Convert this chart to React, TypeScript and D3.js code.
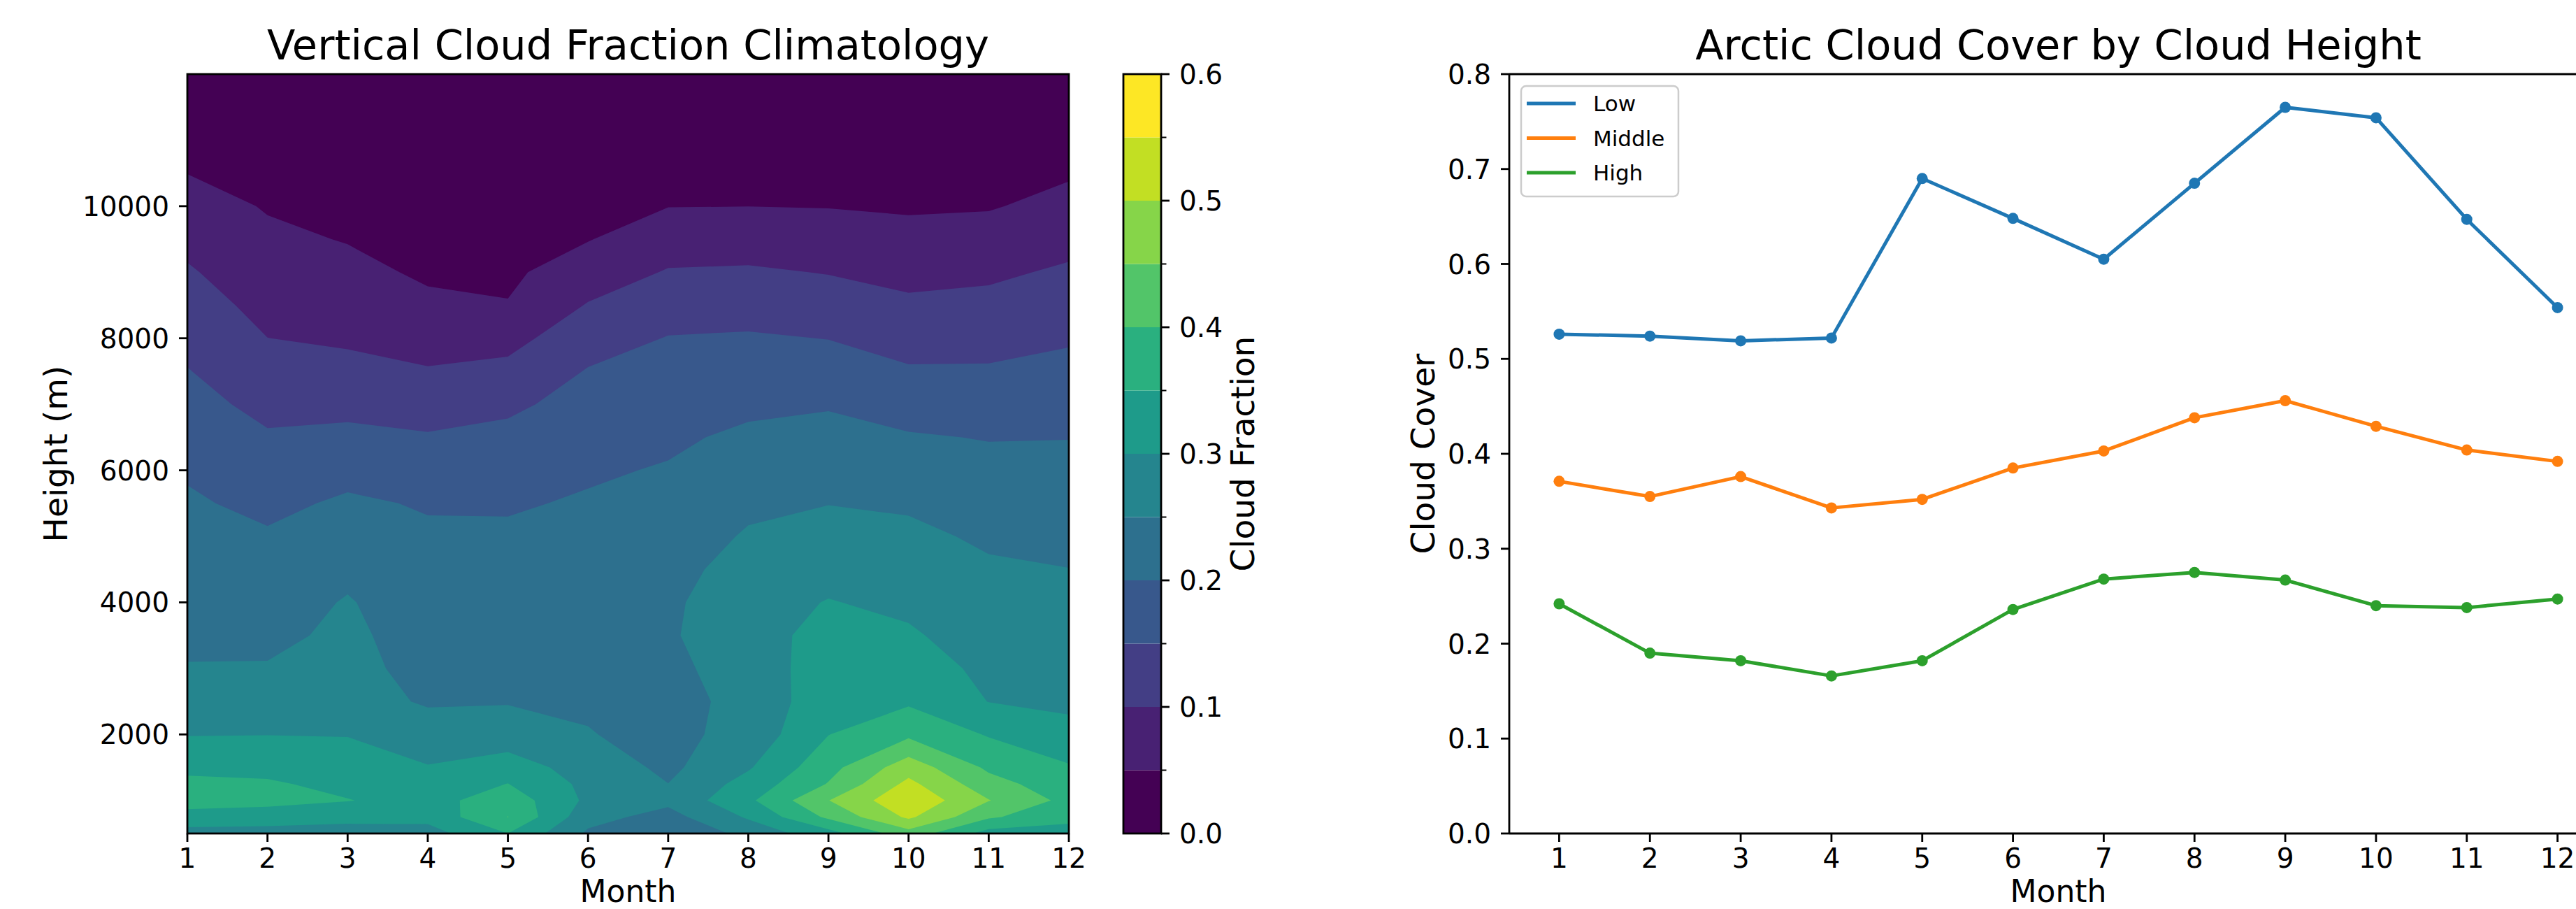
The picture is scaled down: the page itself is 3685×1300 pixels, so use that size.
import React from 'react';
import * as d3 from 'd3';

// figure size
const W = 3685;
const H = 1300;

const months = [1, 2, 3, 4, 5, 6, 7, 8, 9, 10, 11, 12];
const heights = [500, 750, 1000, 1250, 1500, 2000, 2500, 3000, 3500, 4000, 4500, 5000, 5500,
  6000, 6500, 7000, 7500, 8000, 8500, 9000, 9500, 10000, 10500, 11000, 11500, 12000];

// cloud fraction profile for each month, bottom (500 m) to top (12000 m)
const fracJan = [0.28, 0.332, 0.37, 0.361, 0.339, 0.298, 0.275, 0.252, 0.242, 0.233, 0.224, 0.215, 0.206, 0.195, 0.181, 0.166, 0.152, 0.137, 0.121, 0.105, 0.088, 0.068, 0.0495, 0.04, 0.03, 0.02];
const fracFeb = [0.28, 0.325, 0.365, 0.356, 0.336, 0.299, 0.276, 0.253, 0.24, 0.228, 0.216, 0.205, 0.189, 0.172, 0.155, 0.137, 0.118, 0.1003, 0.086, 0.072, 0.058, 0.047, 0.039, 0.031, 0.023, 0.015];
const fracMar = [0.28, 0.314, 0.352, 0.337, 0.324, 0.298, 0.265, 0.261, 0.259, 0.2535, 0.239, 0.223, 0.207, 0.186, 0.161, 0.137, 0.114, 0.093, 0.077, 0.061, 0.048, 0.041, 0.034, 0.026, 0.019, 0.012];
const fracApr = [0.28, 0.315, 0.33, 0.32, 0.303, 0.268, 0.246, 0.238, 0.23, 0.222, 0.2145, 0.207, 0.196, 0.175, 0.154, 0.129, 0.103, 0.083, 0.058, 0.044, 0.038, 0.032, 0.026, 0.02, 0.014, 0.008];
const fracMay = [0.35, 0.401, 0.38, 0.351, 0.322, 0.275, 0.247, 0.239, 0.23, 0.222, 0.214, 0.206, 0.196, 0.179, 0.162, 0.141, 0.112, 0.085, 0.052, 0.042, 0.036, 0.03, 0.024, 0.018, 0.012, 0.005];
const fracJun = [0.2425, 0.267, 0.29, 0.287, 0.28, 0.252, 0.244, 0.237, 0.231, 0.224, 0.218, 0.211, 0.204, 0.195, 0.181, 0.167, 0.153, 0.129, 0.103, 0.074, 0.048, 0.04, 0.031, 0.022, 0.014, 0.005];
const fracJul = [0.198, 0.232, 0.262, 0.2505, 0.239, 0.236, 0.242, 0.239, 0.244, 0.241, 0.235, 0.223, 0.213, 0.203, 0.193, 0.179, 0.166, 0.152, 0.129, 0.1035, 0.076, 0.049, 0.039, 0.03, 0.02, 0.01];
const fracAug = [0.268, 0.306, 0.34, 0.319, 0.295, 0.267, 0.257, 0.271, 0.283, 0.282, 0.268, 0.255, 0.24, 0.224, 0.208, 0.191, 0.173, 0.155, 0.131, 0.106, 0.078, 0.0498, 0.04, 0.031, 0.0215, 0.012];
const fracSep = [0.33, 0.41, 0.449, 0.403, 0.383, 0.349, 0.337, 0.326, 0.314, 0.302, 0.285, 0.267, 0.249, 0.232, 0.215, 0.196, 0.173, 0.149, 0.124, 0.098, 0.072, 0.0485, 0.039, 0.029, 0.02, 0.01];
const fracOct = [0.43, 0.509, 0.54, 0.513, 0.478, 0.39, 0.343, 0.325, 0.306, 0.29, 0.275, 0.26, 0.244, 0.224, 0.204, 0.18, 0.155, 0.1315, 0.109, 0.085, 0.062, 0.0455, 0.037, 0.028, 0.019, 0.01];
const fracNov = [0.33, 0.407, 0.452, 0.419, 0.391, 0.346, 0.299, 0.288, 0.277, 0.266, 0.256, 0.243, 0.228, 0.213, 0.198, 0.177, 0.155, 0.134, 0.113, 0.0915, 0.067, 0.047, 0.038, 0.029, 0.019, 0.01];
const fracDec = [0.33, 0.364, 0.385, 0.37, 0.355, 0.312, 0.292, 0.282, 0.2715, 0.261, 0.2506, 0.238, 0.225, 0.212, 0.199, 0.181, 0.163, 0.145, 0.126, 0.107, 0.085, 0.062, 0.046, 0.037, 0.029, 0.02];
const fracColumns = [fracJan, fracFeb, fracMar, fracApr, fracMay, fracJun, fracJul, fracAug, fracSep, fracOct, fracNov, fracDec];

const levels = [0, 0.05, 0.1, 0.15, 0.2, 0.25, 0.3, 0.35, 0.4, 0.45, 0.5, 0.55, 0.6];
const heightTicks = [2000, 4000, 6000, 8000, 10000];
const fracTicks = [0, 0.1, 0.2, 0.3, 0.4, 0.5, 0.6];

// seasonal cycle per cloud layer
const lowCover = [0.526, 0.524, 0.519, 0.522, 0.69, 0.648, 0.605, 0.685, 0.765, 0.754, 0.647, 0.554];
const midCover = [0.371, 0.355, 0.376, 0.343, 0.352, 0.385, 0.403, 0.438, 0.456, 0.429, 0.404, 0.392];
const highCover = [0.242, 0.19, 0.182, 0.166, 0.182, 0.236, 0.268, 0.275, 0.267, 0.24, 0.238, 0.247];
const coverTicks = [0, 0.1, 0.2, 0.3, 0.4, 0.5, 0.6, 0.7, 0.8];

const seriesList = [
  { name: 'Low', values: lowCover, color: '#1f77b4' },
  { name: 'Middle', values: midCover, color: '#ff7f0e' },
  { name: 'High', values: highCover, color: '#2ca02c' },
];

const FONT = 'DejaVu Sans, sans-serif';
const TICK_FS = 39;
const LABEL_FS = 47;
const XLABEL_FS = 44;
const TITLE_FS = 59;
const SPINE = 2.8;
const TICK_LEN = 12;

const top = 106;
const bottom = 1192;
const xtickY = 1241;
const xlabelY = 1290;

const fmt1 = d3.format('.1f');

function ContourPanel() {
  const x = d3.scaleLinear().domain([1, 12]).range([268, 1529]);
  const y = d3.scaleLinear().domain([500, 12000]).range([bottom, top]);
  const rowToHeight = d3.scaleLinear().domain(heights.map((_, i) => i)).range(heights);
  const color = (k) => d3.interpolateViridis(k / (levels.length - 2));

  const nx = months.length;
  const ny = heights.length;
  const values = new Array(nx * ny);
  for (let j = 0; j < ny; j++) {
    for (let i = 0; i < nx; i++) values[j * nx + i] = fracColumns[i][j];
  }
  const contours = d3.contours().size([nx, ny]).thresholds(levels.slice(1, -1))(values);

  // contour grid coords -> screen
  const project = (p) => {
    const mi = Math.max(0, Math.min(nx - 1, p[0] - 0.5));
    const hj = Math.max(0, Math.min(ny - 1, p[1] - 0.5));
    return [x(months[0] + mi), y(rowToHeight(hj))];
  };
  const toPath = (geom) =>
    geom.coordinates
      .map((poly) => poly.map((ring) => 'M' + ring.map((p) => project(p).join(',')).join('L') + 'Z').join(''))
      .join('');

  const cb = d3.scaleLinear().domain([0, 0.6]).range([bottom, top]);
  const cbX0 = 1607;
  const cbX1 = 1661;
  const minorTicks = levels.filter((_, i) => i % 2 === 1);

  return (
    <g>
      <defs>
        <clipPath id="contour-clip">
          <rect x={x(1)} y={top} width={x(12) - x(1)} height={bottom - top} />
        </clipPath>
      </defs>
      <g clipPath="url(#contour-clip)">
        <rect x={x(1)} y={top} width={x(12) - x(1)} height={bottom - top} fill={color(0)} />
        {contours.map((c, k) => (
          <path key={k} d={toPath(c)} fill={color(k + 1)} fillRule="evenodd" />
        ))}
      </g>
      <rect x={x(1)} y={top} width={x(12) - x(1)} height={bottom - top} fill="none" stroke="#000" strokeWidth={SPINE} />

      {months.map((m) => (
        <g key={m}>
          <line x1={x(m)} x2={x(m)} y1={bottom} y2={bottom + TICK_LEN} stroke="#000" strokeWidth={SPINE} />
          <text x={x(m)} y={xtickY} textAnchor="middle" fontSize={TICK_FS}>{m}</text>
        </g>
      ))}
      {heightTicks.map((h) => (
        <g key={h}>
          <line x1={x(1) - TICK_LEN} x2={x(1)} y1={y(h)} y2={y(h)} stroke="#000" strokeWidth={SPINE} />
          <text x={242} y={y(h) + 14} textAnchor="end" fontSize={TICK_FS}>{h}</text>
        </g>
      ))}
      <text x={898.5} y={85} textAnchor="middle" fontSize={TITLE_FS}>Vertical Cloud Fraction Climatology</text>
      <text x={898.5} y={xlabelY} textAnchor="middle" fontSize={XLABEL_FS}>Month</text>
      <text transform="translate(96,649) rotate(-90)" textAnchor="middle" fontSize={LABEL_FS}>Height (m)</text>

      {levels.slice(0, -1).map((lv, k) => (
        <rect key={k} x={cbX0} width={cbX1 - cbX0} y={cb(levels[k + 1])} height={cb(lv) - cb(levels[k + 1])} fill={color(k)} />
      ))}
      <rect x={cbX0} y={top} width={cbX1 - cbX0} height={bottom - top} fill="none" stroke="#000" strokeWidth={SPINE} />
      {fracTicks.map((v) => (
        <g key={v}>
          <line x1={cbX1} x2={cbX1 + TICK_LEN} y1={cb(v)} y2={cb(v)} stroke="#000" strokeWidth={SPINE} />
          <text x={1687} y={cb(v) + 14} fontSize={TICK_FS}>{fmt1(v)}</text>
        </g>
      ))}
      {minorTicks.map((v) => (
        <line key={v} x1={cbX1} x2={cbX1 + 7.5} y1={cb(v)} y2={cb(v)} stroke="#000" strokeWidth={2} />
      ))}
      <text transform="translate(1794,649) rotate(-90)" textAnchor="middle" fontSize={LABEL_FS}>Cloud Fraction</text>
    </g>
  );
}

function LinePanel() {
  const x0 = 2159;
  const x1 = 3730;
  const x = d3.scaleLinear().domain([0.45, 12.55]).range([x0, x1]);
  const y = d3.scaleLinear().domain([0, 0.8]).range([bottom, top]);
  const line = d3.line().x((d, i) => x(months[i])).y((d) => y(d));

  const lgX = 2176;
  const lgY = 123;
  const rowY = [148, 197.5, 247];

  return (
    <g>
      {seriesList.map((s) => (
        <g key={s.name}>
          <path d={line(s.values)} fill="none" stroke={s.color} strokeWidth={5} strokeLinejoin="round" />
          {s.values.map((v, i) => (
            <circle key={i} cx={x(months[i])} cy={y(v)} r={8} fill={s.color} />
          ))}
        </g>
      ))}

      <line x1={x0} x2={x0} y1={top} y2={bottom} stroke="#000" strokeWidth={SPINE} />
      <line x1={x0} x2={x1} y1={bottom} y2={bottom} stroke="#000" strokeWidth={SPINE} />
      <line x1={x0} x2={x1} y1={top} y2={top} stroke="#000" strokeWidth={SPINE} />
      <line x1={x1} x2={x1} y1={top} y2={bottom} stroke="#000" strokeWidth={SPINE} />

      {months.map((m) => (
        <g key={m}>
          <line x1={x(m)} x2={x(m)} y1={bottom} y2={bottom + TICK_LEN} stroke="#000" strokeWidth={SPINE} />
          <text x={x(m)} y={xtickY} textAnchor="middle" fontSize={TICK_FS}>{m}</text>
        </g>
      ))}
      {coverTicks.map((v) => (
        <g key={v}>
          <line x1={x0 - TICK_LEN} x2={x0} y1={y(v)} y2={y(v)} stroke="#000" strokeWidth={SPINE} />
          <text x={2133} y={y(v) + 14} textAnchor="end" fontSize={TICK_FS}>{fmt1(v)}</text>
        </g>
      ))}

      <rect x={lgX} y={lgY} width={225} height={158} rx={7} fill="#fff" fillOpacity={0.8} stroke="#cccccc" strokeWidth={2.5} />
      {seriesList.map((s, i) => (
        <g key={s.name}>
          <line x1={2184} x2={2254} y1={rowY[i]} y2={rowY[i]} stroke={s.color} strokeWidth={5} />
          <text x={2279} y={rowY[i] + 11} fontSize={31}>{s.name}</text>
        </g>
      ))}

      <text x={2944.5} y={85} textAnchor="middle" fontSize={TITLE_FS}>Arctic Cloud Cover by Cloud Height</text>
      <text x={2944.5} y={xlabelY} textAnchor="middle" fontSize={XLABEL_FS}>Month</text>
      <text transform="translate(2052,649) rotate(-90)" textAnchor="middle" fontSize={LABEL_FS}>Cloud Cover</text>
    </g>
  );
}

export default function App() {
  return (
    <svg
      width={W}
      height={H}
      viewBox={`0 0 ${W} ${H}`}
      style={{ position: 'absolute', left: 0, top: 0, display: 'block', background: '#fff' }}
      fontFamily={FONT}
      fill="#000"
    >
      <rect x={0} y={0} width={W} height={H} fill="#fff" />
      <ContourPanel />
      <LinePanel />
    </svg>
  );
}
